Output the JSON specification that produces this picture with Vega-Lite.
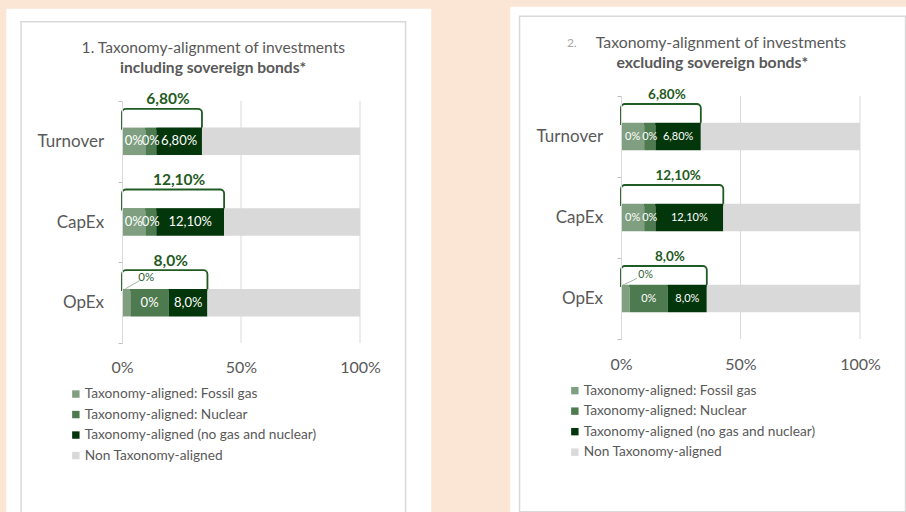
{
  "$schema": "https://vega.github.io/schema/vega-lite/v6.json",
  "background": "#FBE6D5",
  "padding": 0,
  "autosize": {"type": "pad"},
  "config": {"view": {"stroke": null}, "font": "Lato"},
  "datasets": {
    "left": [
      {"metric": "Turnover", "category": "Taxonomy-aligned: Fossil gas", "share": 0.098, "label": "0%"},
      {"metric": "Turnover", "category": "Taxonomy-aligned: Nuclear", "share": 0.046, "label": "0%"},
      {"metric": "Turnover", "category": "Taxonomy-aligned (no gas and nuclear)", "share": 0.192, "label": "6,80%"},
      {"metric": "Turnover", "category": "Non Taxonomy-aligned", "share": 0.664, "label": ""},
      {"metric": "CapEx", "category": "Taxonomy-aligned: Fossil gas", "share": 0.098, "label": "0%"},
      {"metric": "CapEx", "category": "Taxonomy-aligned: Nuclear", "share": 0.046, "label": "0%"},
      {"metric": "CapEx", "category": "Taxonomy-aligned (no gas and nuclear)", "share": 0.285, "label": "12,10%"},
      {"metric": "CapEx", "category": "Non Taxonomy-aligned", "share": 0.571, "label": ""},
      {"metric": "OpEx", "category": "Taxonomy-aligned: Fossil gas", "share": 0.035, "label": "0%"},
      {"metric": "OpEx", "category": "Taxonomy-aligned: Nuclear", "share": 0.162, "label": "0%"},
      {"metric": "OpEx", "category": "Taxonomy-aligned (no gas and nuclear)", "share": 0.162, "label": "8,0%"},
      {"metric": "OpEx", "category": "Non Taxonomy-aligned", "share": 0.641, "label": ""}
    ],
    "right": [
      {"metric": "Turnover", "category": "Taxonomy-aligned: Fossil gas", "share": 0.097, "label": "0%"},
      {"metric": "Turnover", "category": "Taxonomy-aligned: Nuclear", "share": 0.047, "label": "0%"},
      {"metric": "Turnover", "category": "Taxonomy-aligned (no gas and nuclear)", "share": 0.19, "label": "6,80%"},
      {"metric": "Turnover", "category": "Non Taxonomy-aligned", "share": 0.666, "label": ""},
      {"metric": "CapEx", "category": "Taxonomy-aligned: Fossil gas", "share": 0.097, "label": "0%"},
      {"metric": "CapEx", "category": "Taxonomy-aligned: Nuclear", "share": 0.047, "label": "0%"},
      {"metric": "CapEx", "category": "Taxonomy-aligned (no gas and nuclear)", "share": 0.284, "label": "12,10%"},
      {"metric": "CapEx", "category": "Non Taxonomy-aligned", "share": 0.572, "label": ""},
      {"metric": "OpEx", "category": "Taxonomy-aligned: Fossil gas", "share": 0.036, "label": "0%"},
      {"metric": "OpEx", "category": "Taxonomy-aligned: Nuclear", "share": 0.16, "label": "0%"},
      {"metric": "OpEx", "category": "Taxonomy-aligned (no gas and nuclear)", "share": 0.163, "label": "8,0%"},
      {"metric": "OpEx", "category": "Non Taxonomy-aligned", "share": 0.641, "label": ""}
    ]
  },
  "bounds": "flush",
  "spacing": 261,
  "resolve": {"scale": {"color": "independent"}, "legend": {"color": "independent"}},
  "hconcat": [
    {
      "width": 238,
      "height": 247,
      "resolve": {"scale": {"x": "independent", "y": "independent"}},
      "layer": [
        {
          "data": {"values": [{}]},
          "layer": [
            {"mark": {"type": "rect", "color": "#FBE6D5"},
             "encoding": {
               "x": {"datum": -0.51134, "type": "quantitative", "scale": {"domain": [0, 1], "nice": false, "zero": false}, "axis": null},
               "x2": {"datum": 3.29538},
               "y": {"datum": 1.38462, "type": "quantitative", "scale": {"domain": [0, 1], "nice": false, "zero": false}, "axis": null},
               "y2": {"datum": -0.68826}}},
            {"mark": {"type": "rect", "color": "#FFFFFF"},
             "encoding": {
               "x": {"datum": -0.48613, "type": "quantitative"},
               "x2": {"datum": 1.29958},
               "y": {"datum": 1.35344, "type": "quantitative"},
               "y2": {"datum": -0.68826}}},
            {"mark": {"type": "rect", "color": "#D9D9D9"},
             "encoding": {
               "x": {"datum": -0.42731, "type": "quantitative"},
               "x2": {"datum": 1.19454},
               "y": {"datum": 1.30364, "type": "quantitative"},
               "y2": {"datum": -0.68826}}},
            {"mark": {"type": "rect", "color": "#FFFFFF"},
             "encoding": {
               "x": {"datum": -0.42101, "type": "quantitative"},
               "x2": {"datum": 1.18824},
               "y": {"datum": 1.29757, "type": "quantitative"},
               "y2": {"datum": -0.68826}}},
            {"mark": {"type": "rule", "color": "#D9D9D9", "strokeWidth": 1},
             "encoding": {"x": {"datum": 0.5, "type": "quantitative"}, "y": {"datum": 0.97976, "type": "quantitative"}, "y2": {"datum": 0}}},
            {"mark": {"type": "rule", "color": "#D9D9D9", "strokeWidth": 1},
             "encoding": {"x": {"datum": 1, "type": "quantitative"}, "y": {"datum": 0.97976, "type": "quantitative"}, "y2": {"datum": 0}}},
            {"mark": {"type": "text", "text": "1. Taxonomy-alignment of investments", "fontSize": 15.6, "color": "#595959", "align": "center", "baseline": "middle"},
             "encoding": {
               "x": {"datum": 0.38361, "type": "quantitative"},
               "y": {"datum": 1.19555, "type": "quantitative"}}},
            {"mark": {"type": "text", "text": "including sovereign bonds*", "fontSize": 15.6, "fontWeight": "bold", "color": "#595959", "align": "center", "baseline": "middle"},
             "encoding": {
               "x": {"datum": 0.38277, "type": "quantitative"},
               "y": {"datum": 1.11457, "type": "quantitative"}}}
          ]
        },
        {
          "data": {"name": "left"},
          "transform": [
            {"window": [{"op": "row_number", "as": "rank"}], "groupby": ["metric"]},
            {"stack": "share", "groupby": ["metric"], "sort": [{"field": "rank", "order": "ascending"}], "as": ["x0", "x1"]}
          ],
          "encoding": {
            "y": {"field": "metric", "type": "nominal", "sort": ["Turnover", "CapEx", "OpEx"],
                  "scale": {"range": [5, 247], "paddingInner": 0, "paddingOuter": 0},
                  "axis": {"orient": "left", "zindex": 1, "title": null, "domainColor": "#D9D9D9", "tickColor": "#BFBFBF", "tickSize": 4, "tickBand": "extent", "labelFontSize": 17, "labelColor": "#595959", "labelPadding": 14.4, "grid": false}}
          },
          "layer": [
            {"transform": [{"filter": "datum.rank === 3"}],
             "mark": {"type": "bar", "fill": "#FFFFFF", "stroke": "#1F5B22", "strokeWidth": 1.8, "cornerRadiusTopLeft": 4, "cornerRadiusTopRight": 4, "size": 20, "yOffset": -22.5},
             "encoding": {"x": {"field": "x1", "type": "quantitative", "stack": null}}},
            {"mark": {"type": "bar", "size": 27.5},
             "encoding": {
               "x": {"field": "x0", "type": "quantitative", "scale": {"domain": [0, 1], "nice": false, "zero": false},
                     "axis": {"orient": "bottom", "zindex": 1, "values": [0, 0.5, 1], "format": "%", "labelFlush": false, "grid": false, "domain": false, "ticks": false, "tickSize": 0, "labelFontSize": 16, "labelColor": "#595959", "labelPadding": 16, "title": null}},
               "x2": {"field": "x1"},
               "color": {"field": "category", "type": "nominal",
                         "scale": {"domain": ["Taxonomy-aligned: Fossil gas", "Taxonomy-aligned: Nuclear", "Taxonomy-aligned (no gas and nuclear)", "Non Taxonomy-aligned"],
                                   "range": ["#7F9F80", "#4E7A50", "#03360A", "#D9D9D9"]},
                         "legend": {"orient": "none", "legendX": -53, "legendY": 291.2, "title": null, "symbolType": "square", "symbolSize": 55, "symbolStrokeWidth": 0, "labelFontSize": 13.7, "labelColor": "#595959", "rowPadding": 5.5, "labelOffset": 2, "labelLimit": 400, "direction": "vertical"}}}},
            {"transform": [
               {"filter": "datum.label !== '' && !(datum.metric === 'OpEx' && datum.rank === 1)"},
               {"fold": ["x0", "x1"], "as": ["end", "pos"]},
               {"aggregate": [{"op": "mean", "field": "pos", "as": "mid"}], "groupby": ["metric", "label", "rank"]}],
             "mark": {"type": "text", "color": "#FFFFFF", "fontSize": 13},
             "encoding": {"x": {"field": "mid", "type": "quantitative"}, "text": {"field": "label"}}},
            {"transform": [{"filter": "datum.metric === 'OpEx' && datum.rank === 1"}],
             "mark": {"type": "text", "color": "#2E5E30", "fontSize": 11.5, "align": "left", "dx": 8, "dy": -24.3},
             "encoding": {"x": {"field": "x1", "type": "quantitative"}, "text": {"field": "label"}}},
            {"transform": [{"filter": "datum.metric === 'OpEx' && datum.rank === 1"}],
             "mark": {"type": "point", "shape": "M-1,0.58L1,-0.58", "size": 204, "filled": false, "stroke": "#A3B8A3", "strokeWidth": 1, "opacity": 1, "xOffset": 2.2, "yOffset": -18},
             "encoding": {"x": {"field": "x1", "type": "quantitative"}}},
            {"transform": [
               {"filter": "datum.rank <= 3"},
               {"joinaggregate": [{"op": "min", "field": "x0", "as": "lo"}, {"op": "max", "field": "x1", "as": "hi"}], "groupby": ["metric"]},
               {"filter": "datum.rank === 3"},
               {"fold": ["lo", "hi"], "as": ["end", "pos"]},
               {"aggregate": [{"op": "mean", "field": "pos", "as": "mid"}], "groupby": ["metric", "label"]}],
             "mark": {"type": "text", "color": "#1F5B22", "fontSize": 15.5, "fontWeight": "bold", "dx": 6, "dy": -42},
             "encoding": {"x": {"field": "mid", "type": "quantitative"}, "text": {"field": "label"}}}
          ]
        }
      ]
    },
    {
      "width": 239,
      "height": 247,
      "resolve": {"scale": {"x": "independent", "y": "independent"}},
      "layer": [
        {
          "data": {"values": [{}]},
          "layer": [
            {"mark": {"type": "rect", "color": "#FFFFFF"},
             "encoding": {
               "x": {"datum": -0.46318, "type": "quantitative", "scale": {"domain": [0, 1], "nice": false, "zero": false}, "axis": null},
               "x2": {"datum": 1.19372},
               "y": {"datum": 1.36154, "type": "quantitative", "scale": {"domain": [0, 1], "nice": false, "zero": false}, "axis": null},
               "y2": {"datum": -0.68826}}},
            {"mark": {"type": "rect", "color": "#D9D9D9"},
             "encoding": {
               "x": {"datum": -0.42762, "type": "quantitative"},
               "x2": {"datum": 1.19372},
               "y": {"datum": 1.32591, "type": "quantitative"},
               "y2": {"datum": -0.68623}}},
            {"mark": {"type": "rect", "color": "#FFFFFF"},
             "encoding": {
               "x": {"datum": -0.42134, "type": "quantitative"},
               "x2": {"datum": 1.18745},
               "y": {"datum": 1.31984, "type": "quantitative"},
               "y2": {"datum": -0.68016}}},
            {"mark": {"type": "rule", "color": "#D9D9D9", "strokeWidth": 1},
             "encoding": {"x": {"datum": 0.5, "type": "quantitative"}, "y": {"datum": 1, "type": "quantitative"}, "y2": {"datum": 0.01619}}},
            {"mark": {"type": "rule", "color": "#D9D9D9", "strokeWidth": 1},
             "encoding": {"x": {"datum": 1, "type": "quantitative"}, "y": {"datum": 1, "type": "quantitative"}, "y2": {"datum": 0.01619}}},
            {"mark": {"type": "text", "text": "2.", "fontSize": 12, "color": "#A6A6A6", "align": "center", "baseline": "middle"},
             "encoding": {
               "x": {"datum": -0.20586, "type": "quantitative"},
               "y": {"datum": 1.21457, "type": "quantitative"}}},
            {"mark": {"type": "text", "text": "Taxonomy-alignment of investments", "fontSize": 15.8, "color": "#595959", "align": "center", "baseline": "middle"},
             "encoding": {
               "x": {"datum": 0.41841, "type": "quantitative"},
               "y": {"datum": 1.21457, "type": "quantitative"}}},
            {"mark": {"type": "text", "text": "excluding sovereign bonds*", "fontSize": 15.8, "fontWeight": "bold", "color": "#595959", "align": "center", "baseline": "middle"},
             "encoding": {
               "x": {"datum": 0.38201, "type": "quantitative"},
               "y": {"datum": 1.13239, "type": "quantitative"}}}
          ]
        },
        {
          "data": {"name": "right"},
          "transform": [
            {"window": [{"op": "row_number", "as": "rank"}], "groupby": ["metric"]},
            {"stack": "share", "groupby": ["metric"], "sort": [{"field": "rank", "order": "ascending"}], "as": ["x0", "x1"]}
          ],
          "encoding": {
            "y": {"field": "metric", "type": "nominal", "sort": ["Turnover", "CapEx", "OpEx"],
                  "scale": {"range": [0, 243], "paddingInner": 0, "paddingOuter": 0},
                  "axis": {"orient": "left", "zindex": 1, "title": null, "domainColor": "#D9D9D9", "tickColor": "#BFBFBF", "tickSize": 4, "tickBand": "extent", "labelFontSize": 17, "labelColor": "#595959", "labelPadding": 14.4, "grid": false}}
          },
          "layer": [
            {"transform": [{"filter": "datum.rank === 3"}],
             "mark": {"type": "bar", "fill": "#FFFFFF", "stroke": "#1F5B22", "strokeWidth": 1.8, "cornerRadiusTopLeft": 4, "cornerRadiusTopRight": 4, "size": 20, "yOffset": -22.5},
             "encoding": {"x": {"field": "x1", "type": "quantitative", "stack": null}}},
            {"mark": {"type": "bar", "size": 27.5},
             "encoding": {
               "x": {"field": "x0", "type": "quantitative", "scale": {"domain": [0, 1], "nice": false, "zero": false},
                     "axis": {"orient": "bottom", "zindex": 1, "values": [0, 0.5, 1], "format": "%", "labelFlush": false, "grid": false, "domain": false, "ticks": false, "tickSize": 0, "labelFontSize": 16, "labelColor": "#595959", "labelPadding": 13.6, "title": null}},
               "x2": {"field": "x1"},
               "color": {"field": "category", "type": "nominal",
                         "scale": {"domain": ["Taxonomy-aligned: Fossil gas", "Taxonomy-aligned: Nuclear", "Taxonomy-aligned (no gas and nuclear)", "Non Taxonomy-aligned"],
                                   "range": ["#7F9F80", "#4E7A50", "#03360A", "#D9D9D9"]},
                         "legend": {"orient": "none", "legendX": -53, "legendY": 287.8, "title": null, "symbolType": "square", "symbolSize": 55, "symbolStrokeWidth": 0, "labelFontSize": 13.7, "labelColor": "#595959", "rowPadding": 5.5, "labelOffset": 2, "labelLimit": 400, "direction": "vertical"}}}},
            {"transform": [
               {"filter": "datum.label !== '' && !(datum.metric === 'OpEx' && datum.rank === 1)"},
               {"fold": ["x0", "x1"], "as": ["end", "pos"]},
               {"aggregate": [{"op": "mean", "field": "pos", "as": "mid"}], "groupby": ["metric", "label", "rank"]}],
             "mark": {"type": "text", "color": "#FFFFFF", "fontSize": 11},
             "encoding": {"x": {"field": "mid", "type": "quantitative"}, "text": {"field": "label"}}},
            {"transform": [{"filter": "datum.metric === 'OpEx' && datum.rank === 1"}],
             "mark": {"type": "text", "color": "#2E5E30", "fontSize": 10.5, "align": "left", "dx": 8.7, "dy": -24},
             "encoding": {"x": {"field": "x1", "type": "quantitative"}, "text": {"field": "label"}}},
            {"transform": [{"filter": "datum.metric === 'OpEx' && datum.rank === 1"}],
             "mark": {"type": "point", "shape": "M-1,0.48L1,-0.48", "size": 196, "filled": false, "stroke": "#A3B8A3", "strokeWidth": 1, "opacity": 1, "xOffset": 0.4, "yOffset": -16.8},
             "encoding": {"x": {"field": "x1", "type": "quantitative"}}},
            {"transform": [
               {"filter": "datum.rank <= 3"},
               {"joinaggregate": [{"op": "min", "field": "x0", "as": "lo"}, {"op": "max", "field": "x1", "as": "hi"}], "groupby": ["metric"]},
               {"filter": "datum.rank === 3"},
               {"fold": ["lo", "hi"], "as": ["end", "pos"]},
               {"aggregate": [{"op": "mean", "field": "pos", "as": "mid"}], "groupby": ["metric", "label"]}],
             "mark": {"type": "text", "color": "#1F5B22", "fontSize": 13.5, "fontWeight": "bold", "dx": 6, "dy": -42},
             "encoding": {"x": {"field": "mid", "type": "quantitative"}, "text": {"field": "label"}}}
          ]
        }
      ]
    }
  ]
}
